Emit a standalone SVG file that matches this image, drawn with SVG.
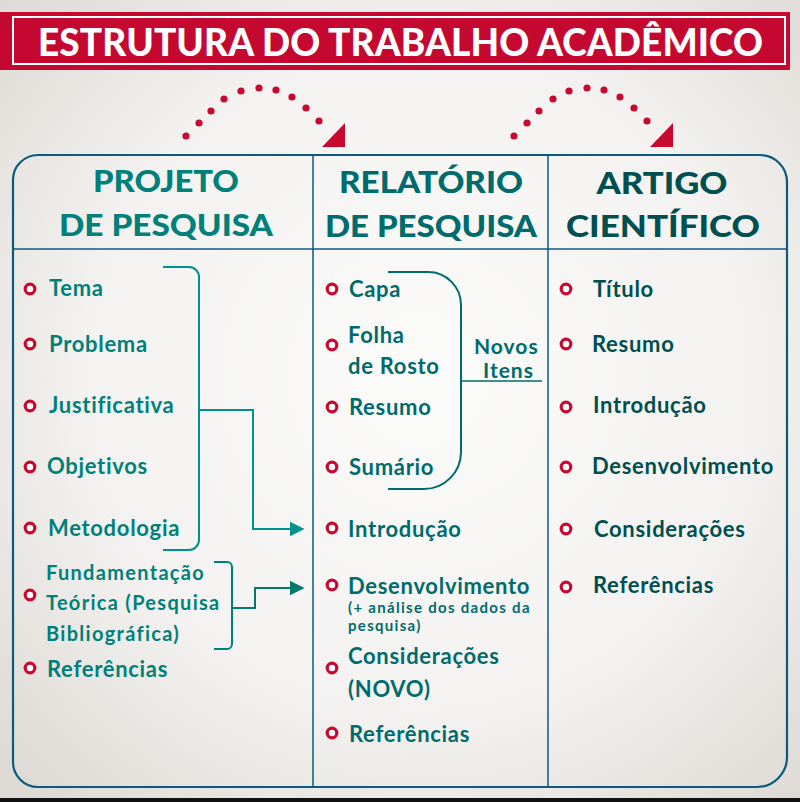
<svg xmlns="http://www.w3.org/2000/svg" width="800" height="802" viewBox="0 0 800 802">
<defs>
<radialGradient id="bg" cx="420" cy="380" r="560" gradientUnits="userSpaceOnUse">
<stop offset="0" stop-color="#fbfbfa"/>
<stop offset="0.6" stop-color="#f3f2f0"/>
<stop offset="1" stop-color="#dedad5"/>
</radialGradient>
<marker id="arr" viewBox="0 0 10 10" refX="9" refY="5" markerWidth="15" markerHeight="15" markerUnits="userSpaceOnUse" orient="auto">
<path d="M0,0 L10,5 L0,10 Z" fill="#00918c"/>
</marker>
<marker id="arr2" viewBox="0 0 10 10" refX="9" refY="5" markerWidth="15" markerHeight="15" markerUnits="userSpaceOnUse" orient="auto">
<path d="M0,0 L10,5 L0,10 Z" fill="#007a6c"/>
</marker>
</defs>
<style>
text{font-family:Lato,"Liberation Sans",sans-serif;font-weight:bold}
.h1{fill:#00807b;font-size:30px;font-weight:900;text-anchor:middle}
.h2{fill:#006b6d;font-size:30px;font-weight:900;text-anchor:middle}
.h3{fill:#004f50;font-size:30px;font-weight:900;text-anchor:middle}
.c1{fill:#00807b;font-size:22px;letter-spacing:0.7px}
.c2{fill:#006b6d;font-size:22px;letter-spacing:0.7px}
.c3{fill:#004f50;font-size:22px;letter-spacing:0.7px}
.sm{font-size:20px;letter-spacing:1.3px}
.xs{font-size:15px;letter-spacing:1.3px}
.b{fill:#fff;stroke:#c8082f;stroke-width:3.2}
.frame{fill:none;stroke:#0c5a7e;stroke-width:2.2}
.div{stroke:#0c5a7e;stroke-width:1.5}
.con{fill:none;stroke:#00918c;stroke-width:2}
.dot{fill:#c8082f}
</style>
<rect width="800" height="802" fill="url(#bg)"/>
<rect x="0" y="798" width="800" height="4" fill="#111"/>
<g id="title">
<rect x="0" y="12" width="790" height="58" fill="#c4082f"/>
<rect x="13" y="17" width="772" height="47" fill="none" stroke="#fff" stroke-width="2"/>
<text x="38" y="56" textLength="725" lengthAdjust="spacing" style="fill:#fff;font-size:37px;font-weight:900">ESTRUTURA DO TRABALHO ACADÊMICO</text>
</g>
<g id="arc-arrows">
<circle class="dot" cx="186" cy="136" r="3.6"/>
<circle class="dot" cx="199" cy="123" r="3.6"/>
<circle class="dot" cx="211" cy="111" r="3.6"/>
<circle class="dot" cx="224" cy="99" r="3.6"/>
<circle class="dot" cx="241" cy="91" r="3.6"/>
<circle class="dot" cx="259" cy="88" r="3.6"/>
<circle class="dot" cx="276" cy="90" r="3.6"/>
<circle class="dot" cx="292" cy="97" r="3.6"/>
<circle class="dot" cx="306" cy="108" r="3.6"/>
<circle class="dot" cx="319" cy="121" r="3.6"/>
<path class="dot" d="M322,147 L345,123 L345,147 Z"/>
<circle class="dot" cx="514" cy="136" r="3.6"/>
<circle class="dot" cx="527" cy="123" r="3.6"/>
<circle class="dot" cx="539" cy="111" r="3.6"/>
<circle class="dot" cx="553" cy="99" r="3.6"/>
<circle class="dot" cx="569" cy="91" r="3.6"/>
<circle class="dot" cx="587" cy="88" r="3.6"/>
<circle class="dot" cx="604" cy="90" r="3.6"/>
<circle class="dot" cx="620" cy="97" r="3.6"/>
<circle class="dot" cx="634" cy="108" r="3.6"/>
<circle class="dot" cx="647" cy="121" r="3.6"/>
<path class="dot" d="M650,147 L673,123 L673,147 Z"/>
</g>
<g id="table">
<path class="frame" d="M38,155 L760,155 A27,27 0 0 1 787,182 L787,757 A30,30 0 0 1 757,787 L38,787 A25,25 0 0 1 13,762 L13,180 A25,25 0 0 1 38,155 Z"/>
<line class="div" x1="13" y1="249" x2="787" y2="249"/>
<line class="div" x1="313" y1="155" x2="313" y2="787"/>
<line class="div" x1="548" y1="155" x2="548" y2="787"/>
</g>
<g id="projeto">
<text class="h1" x="166" y="192" textLength="146" lengthAdjust="spacingAndGlyphs">PROJETO</text>
<text class="h1" x="166" y="236" textLength="214" lengthAdjust="spacingAndGlyphs">DE PESQUISA</text>
<circle class="b" cx="30" cy="289" r="4.8"/><text class="c1" x="49" y="296">Tema</text>
<circle class="b" cx="30" cy="344" r="4.8"/><text class="c1" x="49" y="352">Problema</text>
<circle class="b" cx="30" cy="406" r="4.8"/><text class="c1" x="49" y="413">Justificativa</text>
<circle class="b" cx="30" cy="467" r="4.8"/><text class="c1" x="47" y="474">Objetivos</text>
<circle class="b" cx="30" cy="528" r="4.8"/><text class="c1" x="48" y="536">Metodologia</text>
<circle class="b" cx="30" cy="595" r="4.8"/>
<text class="c1 sm" x="46" y="580">Fundamentação</text>
<text class="c1 sm" x="46" y="610">Teórica (Pesquisa</text>
<text class="c1 sm" x="46" y="641">Bibliográfica)</text>
<circle class="b" cx="30" cy="668" r="4.8"/><text class="c1" x="47" y="677">Referências</text>
</g>
<g id="relatorio">
<text class="h2" x="431" y="193" textLength="184" lengthAdjust="spacingAndGlyphs">RELATÓRIO</text>
<text class="h2" x="431" y="237" textLength="212" lengthAdjust="spacingAndGlyphs">DE PESQUISA</text>
<circle class="b" cx="332" cy="289" r="4.8"/><text class="c2" x="349" y="297">Capa</text>
<circle class="b" cx="332" cy="345" r="4.8"/><text class="c2" x="348" y="343">Folha</text><text class="c2" x="348" y="374">de Rosto</text>
<circle class="b" cx="332" cy="407" r="4.8"/><text class="c2" x="349" y="415">Resumo</text>
<circle class="b" cx="332" cy="467" r="4.8"/><text class="c2" x="349" y="475">Sumário</text>
<circle class="b" cx="332" cy="528" r="4.8"/><text class="c2" x="348" y="537">Introdução</text>
<circle class="b" cx="332" cy="585" r="4.8"/><text class="c2" x="348" y="594">Desenvolvimento</text>
<text class="c2 xs" x="348" y="613">(+ análise dos dados da</text>
<text class="c2 xs" x="348" y="631">pesquisa)</text>
<circle class="b" cx="332" cy="668" r="4.8"/><text class="c2" x="348" y="664">Considerações</text><text class="c2" x="348" y="697">(NOVO)</text>
<circle class="b" cx="332" cy="733" r="4.8"/><text class="c2" x="349" y="742">Referências</text>
<text class="c2" x="474" y="354" style="font-size:21px;letter-spacing:1px">Novos</text>
<text class="c2" x="483" y="378" style="font-size:21px;letter-spacing:1px">Itens</text>
</g>
<g id="artigo">
<text class="h3" x="662" y="194" textLength="131" lengthAdjust="spacingAndGlyphs">ARTIGO</text>
<text class="h3" x="663" y="237" textLength="194" lengthAdjust="spacingAndGlyphs">CIENTÍFICO</text>
<circle class="b" cx="566" cy="289" r="4.8"/><text class="c3" x="593" y="297">Título</text>
<circle class="b" cx="566" cy="344" r="4.8"/><text class="c3" x="592" y="352">Resumo</text>
<circle class="b" cx="566" cy="407" r="4.8"/><text class="c3" x="593" y="413">Introdução</text>
<circle class="b" cx="566" cy="467" r="4.8"/><text class="c3" x="592" y="474">Desenvolvimento</text>
<circle class="b" cx="566" cy="529" r="4.8"/><text class="c3" x="594" y="537">Considerações</text>
<circle class="b" cx="566" cy="587" r="4.8"/><text class="c3" x="593" y="593">Referências</text>
</g>
<g id="connectors">
<path class="con" d="M163,267 L189,267 A10,10 0 0 1 199,277 L199,540 A10,10 0 0 1 189,550 L163,550"/>
<path class="con" d="M199,410 L253,410 L253,529 L303,529" marker-end="url(#arr)"/>
<path class="con" style="stroke:#00807b" d="M214,562 L227,562 A5,5 0 0 1 232,567 L232,644 A5,5 0 0 1 227,649 L214,649"/>
<path class="con" style="stroke:#007a6c" d="M232,608 L255,608 L255,588 L303,588" marker-end="url(#arr2)"/>
<path class="con" style="stroke:#006b6d" d="M388,272 L428,272 A33,33 0 0 1 461,305 L461,452 A37,37 0 0 1 424,489 L388,489"/>
<line class="con" style="stroke:#006b6d;stroke-width:1.5" x1="461" y1="381" x2="542" y2="381"/>
</g>
</svg>
